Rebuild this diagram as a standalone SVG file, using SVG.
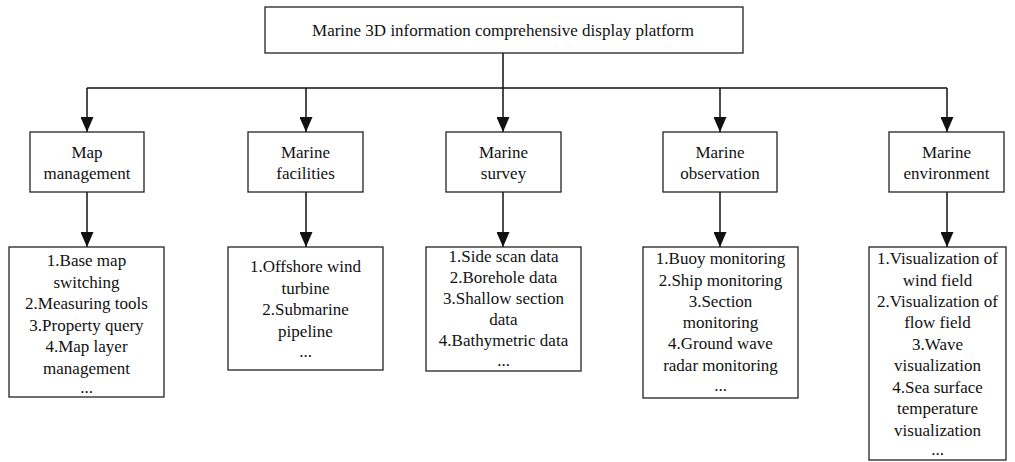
<svg xmlns="http://www.w3.org/2000/svg" width="1015" height="462" viewBox="0 0 1015 462">
<style>
.box{fill:#fff;stroke:#222;stroke-width:1.3}
.t{font-size:17px;fill:#111;text-anchor:middle}
.c{fill:none;stroke:#111;stroke-width:1.5}
.a{fill:none;stroke:#111;stroke-width:1.5;marker-end:url(#ah)}
</style>
<defs>
<marker id="ah" markerUnits="userSpaceOnUse" markerWidth="15" markerHeight="13" refX="15" refY="6.5" orient="auto" viewBox="0 0 15 13">
<path d="M0,0 L15,6.5 L0,13 Z" fill="#111"/>
</marker>
</defs>
<rect width="1015" height="462" fill="#fff"/>
<g id="connectors">
<path class="c" d="M503,53 V88 M87,88 H947"/>
<path class="a" d="M87,88 V132"/>
<path class="a" d="M306,88 V132"/>
<path class="a" d="M503,88 V132"/>
<path class="a" d="M720,88 V132"/>
<path class="a" d="M947,88 V132"/>
<path class="a" d="M87,192 V247"/>
<path class="a" d="M306,192 V247"/>
<path class="a" d="M503,192 V247"/>
<path class="a" d="M720,192 V247"/>
<path class="a" d="M947,192 V247"/>
</g>
<g font-family="'Liberation Serif', 'Times New Roman', Times, serif">
<g id="root">
<rect class="box" x="265" y="7" width="478" height="46"/>
<text class="t" x="503" y="36">Marine 3D information comprehensive display platform</text>
</g>
<g id="map-management">
<rect class="box" x="30" y="132" width="114" height="60"/>
<text class="t" x="87" y="158">Map</text>
<text class="t" x="87" y="179">management</text>
</g>
<g id="marine-facilities">
<rect class="box" x="248" y="132" width="115" height="60"/>
<text class="t" x="305.5" y="158">Marine</text>
<text class="t" x="305.5" y="179">facilities</text>
</g>
<g id="marine-survey">
<rect class="box" x="446" y="132" width="115" height="60"/>
<text class="t" x="503.5" y="158">Marine</text>
<text class="t" x="503.5" y="179">survey</text>
</g>
<g id="marine-observation">
<rect class="box" x="663" y="132" width="114" height="60"/>
<text class="t" x="720" y="158">Marine</text>
<text class="t" x="720" y="179">observation</text>
</g>
<g id="marine-environment">
<rect class="box" x="889" y="132" width="115" height="60"/>
<text class="t" x="946.5" y="158">Marine</text>
<text class="t" x="946.5" y="179">environment</text>
</g>
<g id="map-management-items">
<rect class="box" x="9" y="247" width="155" height="150"/>
<text class="t" x="86.5" y="266">1.Base map</text>
<text class="t" x="86.5" y="287.5">switching</text>
<text class="t" x="86.5" y="309">2.Measuring tools</text>
<text class="t" x="86.5" y="330.5">3.Property query</text>
<text class="t" x="86.5" y="352">4.Map layer</text>
<text class="t" x="86.5" y="373.5">management</text>
<text class="t" x="86.5" y="393">...</text>
</g>
<g id="marine-facilities-items">
<rect class="box" x="228" y="247" width="155" height="123"/>
<text class="t" x="305.5" y="272">1.Offshore wind</text>
<text class="t" x="305.5" y="293.5">turbine</text>
<text class="t" x="305.5" y="315">2.Submarine</text>
<text class="t" x="305.5" y="336.5">pipeline</text>
<text class="t" x="305.5" y="357">...</text>
</g>
<g id="marine-survey-items">
<rect class="box" x="426" y="247" width="155" height="124"/>
<text class="t" x="503.5" y="262">1.Side scan data</text>
<text class="t" x="503.5" y="283">2.Borehole data</text>
<text class="t" x="503.5" y="304">3.Shallow section</text>
<text class="t" x="503.5" y="325">data</text>
<text class="t" x="503.5" y="346">4.Bathymetric data</text>
<text class="t" x="503.5" y="366">...</text>
</g>
<g id="marine-observation-items">
<rect class="box" x="643" y="247" width="155" height="151"/>
<text class="t" x="720.5" y="264">1.Buoy monitoring</text>
<text class="t" x="720.5" y="286">2.Ship monitoring</text>
<text class="t" x="720.5" y="307">3.Section</text>
<text class="t" x="720.5" y="328">monitoring</text>
<text class="t" x="720.5" y="349">4.Ground wave</text>
<text class="t" x="720.5" y="371">radar monitoring</text>
<text class="t" x="720.5" y="391">...</text>
</g>
<g id="marine-environment-items">
<rect class="box" x="869" y="247" width="137" height="213"/>
<text class="t" x="937.5" y="264">1.Visualization of</text>
<text class="t" x="937.5" y="286">wind field</text>
<text class="t" x="937.5" y="307">2.Visualization of</text>
<text class="t" x="937.5" y="328">flow field</text>
<text class="t" x="937.5" y="350">3.Wave</text>
<text class="t" x="937.5" y="371">visualization</text>
<text class="t" x="937.5" y="393">4.Sea surface</text>
<text class="t" x="937.5" y="414">temperature</text>
<text class="t" x="937.5" y="436">visualization</text>
<text class="t" x="937.5" y="455">...</text>
</g>
</g>
</svg>
